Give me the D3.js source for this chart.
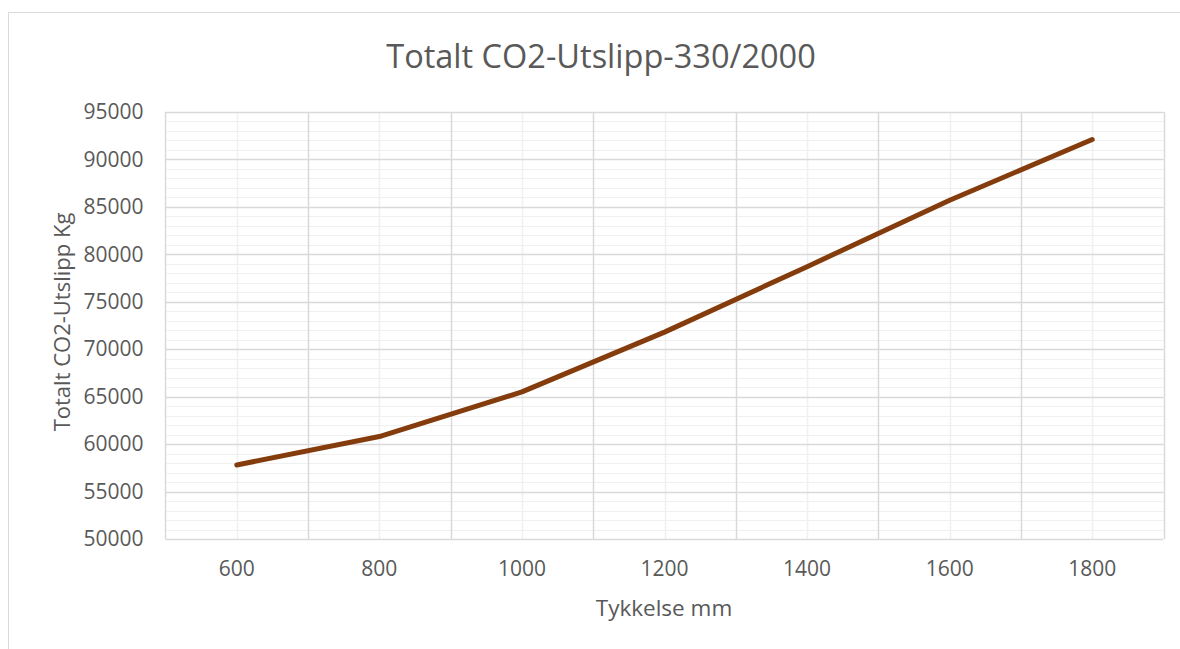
<!DOCTYPE html>
<html>
<head>
<meta charset="utf-8">
<script src="https://cdn.jsdelivr.net/npm/d3@7"></script>
<style>
  html, body { margin: 0; padding: 0; background: #fff; }
  svg { display: block; }
  text { font-family: "Open Sans", "Noto Sans", sans-serif; fill: #595959; }
</style>
</head>
<body>
<svg id="chart" width="1180" height="649"></svg>
<script>
// Thickness categories (mm) and total CO2 emission (kg)
const categories = [600, 800, 1000, 1200, 1400, 1600, 1800];
const emissions = [57800, 60800, 65500, 71800, 78700, 85700, 92100];
const yTicks = [50000, 55000, 60000, 65000, 70000, 75000, 80000, 85000, 90000, 95000];
const yMinorStep = 1000;

const titleText = "Totalt CO2-Utslipp-330/2000";
const xTitle = "Tykkelse mm";
const yTitle = "Totalt CO2-Utslipp Kg";

const W = 1180, H = 649;
const plot = { left: 165.5, right: 1163.5, top: 112, bottom: 539 };

const svg = d3.select("#chart");

// chart frame
svg.append("rect")
  .attr("x", 8.5).attr("y", 12.5)
  .attr("width", W + 20).attr("height", H + 20)
  .attr("fill", "#fff").attr("stroke", "#d9d9d9").attr("stroke-width", 1);

const x = d3.scaleBand()
  .domain(categories)
  .range([plot.left, plot.right])
  .padding(0);

const y = d3.scaleLinear()
  .domain([yTicks[0], yTicks[yTicks.length - 1]])
  .range([plot.bottom, plot.top]);

const grid = svg.append("g");

// minor horizontal gridlines
const minorVals = d3.range(yTicks[0], yTicks[yTicks.length - 1] + 1, yMinorStep)
  .filter(v => !yTicks.includes(v));
grid.selectAll("line.hminor").data(minorVals).join("line")
  .attr("x1", plot.left).attr("x2", plot.right)
  .attr("y1", d => Math.round(y(d)) + 0.5).attr("y2", d => Math.round(y(d)) + 0.5)
  .attr("stroke", "#f0f0f0").attr("stroke-width", 1.2);

// minor vertical gridlines at category centres
grid.selectAll("line.vminor").data(categories).join("line")
  .attr("x1", d => Math.round(x(d) + x.bandwidth() / 2) + 0.5)
  .attr("x2", d => Math.round(x(d) + x.bandwidth() / 2) + 0.5)
  .attr("y1", plot.top).attr("y2", plot.bottom)
  .attr("stroke", "#f0f0f0").attr("stroke-width", 1.5);

// major horizontal gridlines
grid.selectAll("line.hmajor").data(yTicks).join("line")
  .attr("x1", plot.left).attr("x2", plot.right)
  .attr("y1", d => Math.round(y(d)) + 0.5).attr("y2", d => Math.round(y(d)) + 0.5)
  .attr("stroke", "#d9d9d9").attr("stroke-width", 1.5);

// major vertical gridlines at category boundaries
const bounds = categories.map(c => x(c)).concat([x(categories[categories.length - 1]) + x.bandwidth()]);
grid.selectAll("line.vmajor").data(bounds).join("line")
  .attr("x1", d => Math.round(d) + 0.5).attr("x2", d => Math.round(d) + 0.5)
  .attr("y1", plot.top).attr("y2", plot.bottom)
  .attr("stroke", "#d9d9d9").attr("stroke-width", 1.5);

// y axis labels
const yAxis = d3.axisLeft(y).tickValues(yTicks).tickSize(0).tickPadding(0)
  .tickFormat(d3.format("d"));
const gy = svg.append("g").attr("transform", `translate(${plot.left - 22},0)`).call(yAxis);
gy.select(".domain").remove();
gy.selectAll("text").attr("font-size", "21px").attr("fill", "#595959")
  .attr("font-family", '"Open Sans", sans-serif');

// x axis labels
const xAxis = d3.axisBottom(x).tickSize(0).tickPadding(0);
const gx = svg.append("g").attr("transform", `translate(0,${plot.bottom + 22})`).call(xAxis);
gx.select(".domain").remove();
gx.selectAll("text").attr("font-size", "21px").attr("fill", "#595959")
  .attr("font-family", '"Open Sans", sans-serif');

// data line
const line = d3.line()
  .x((d, i) => x(categories[i]) + x.bandwidth() / 2)
  .y(d => y(d));
svg.append("path")
  .datum(emissions)
  .attr("d", line)
  .attr("fill", "none")
  .attr("stroke", "#843c0c")
  .attr("stroke-width", 5)
  .attr("stroke-linejoin", "round")
  .attr("stroke-linecap", "round");

// title
svg.append("text")
  .attr("x", 601).attr("y", 68)
  .attr("text-anchor", "middle")
  .attr("font-size", "32.5px")
  .text(titleText);

// axis titles
svg.append("text")
  .attr("x", 664).attr("y", 616)
  .attr("text-anchor", "middle")
  .attr("font-size", "22.5px")
  .text(xTitle);

svg.append("text")
  .attr("transform", "translate(70,322) rotate(-90)")
  .attr("text-anchor", "middle")
  .attr("font-size", "22px")
  .text(yTitle);
</script>
</body>
</html>
